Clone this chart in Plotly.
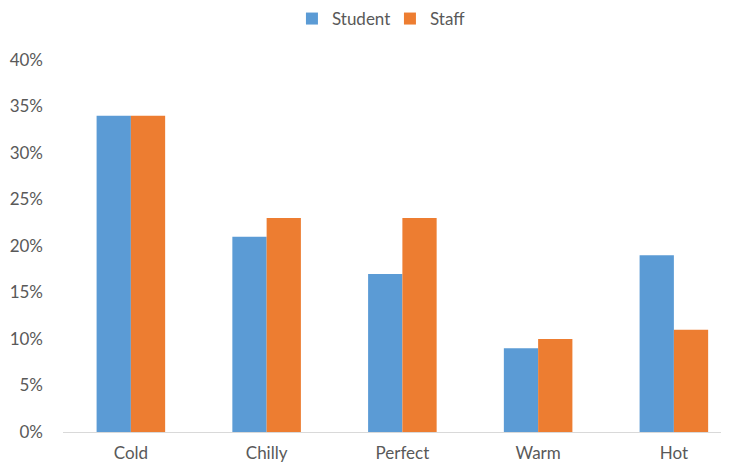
import plotly.graph_objects as go

categories = ["Cold", "Chilly", "Perfect", "Warm", "Hot"]
student = [0.34, 0.21, 0.17, 0.09, 0.19]
staff = [0.34, 0.23, 0.23, 0.10, 0.11]
y_ticks = [0, 0.05, 0.10, 0.15, 0.20, 0.25, 0.30, 0.35, 0.40]
y_tick_labels = ["0%", "5%", "10%", "15%", "20%", "25%", "30%", "35%", "40%"]

fig = go.Figure()
fig.add_trace(go.Bar(name="Student", x=categories, y=student, marker_color="#5B9BD5", marker_line_width=0))
fig.add_trace(go.Bar(name="Staff", x=categories, y=staff, marker_color="#ED7D31", marker_line_width=0))

fig.update_layout(
    width=729, height=470,
    margin=dict(l=55, r=0, t=52, b=46, autoexpand=False),
    paper_bgcolor="white", plot_bgcolor="white",
    barmode="group", bargap=0.495, bargroupgap=0,
    font=dict(family="Lato", color="#595959", size=17),
    legend=dict(orientation="h", x=0.3895, xanchor="left", xref="container",
                y=0.9766, yanchor="middle", yref="container",
                font=dict(size=17), itemwidth=30, entrywidth=53,
                traceorder="normal"),
    showlegend=True,
)
fig.update_xaxes(range=[-0.5, 4.465], showline=True, linecolor="#D9D9D9", linewidth=1,
                 ticks="", showgrid=False, ticklabelstandoff=6, tickfont=dict(size=17),
                 automargin=False)
fig.update_yaxes(range=[0, 0.4], tickvals=y_ticks, ticktext=y_tick_labels, showgrid=False,
                 zeroline=False, showline=False, ticks="", ticklabelstandoff=19,
                 tickfont=dict(size=17), automargin=False)

fig.write_html("out.html")
